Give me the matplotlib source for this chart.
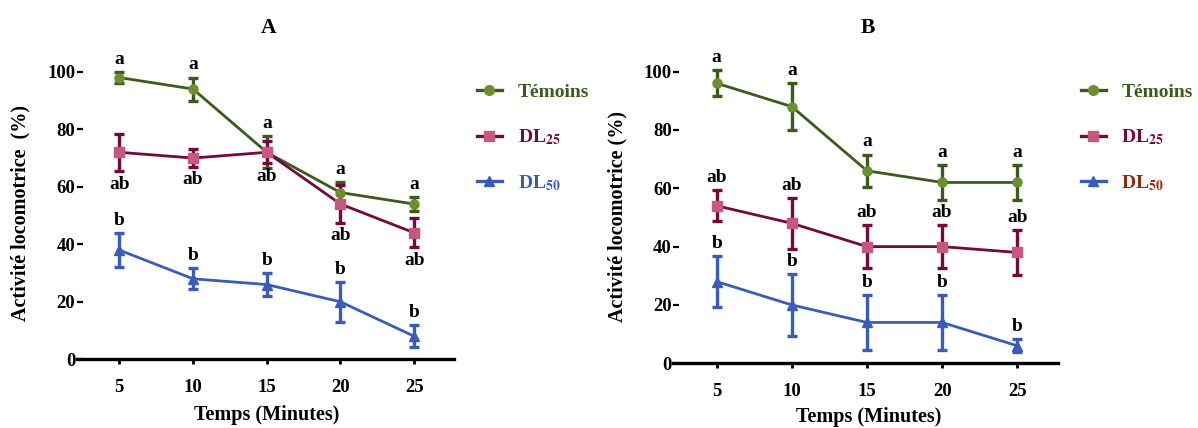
import matplotlib
matplotlib.use("Agg")
from matplotlib import pyplot as plt
from matplotlib.lines import Line2D

plt.rcParams["font.family"] = ["Liberation Serif", "DejaVu Serif"]
plt.rcParams["font.weight"] = "bold"
plt.rcParams["axes.labelweight"] = "bold"
plt.rcParams["mathtext.fontset"] = "stix"

temps = [5, 10, 15, 20, 25]

# panel A
temoins_a = [98, 94, 72, 58, 54]
temoins_a_err = [2, 4, 5.5, 3.5, 2.5]
dl25_a = [72, 70, 72, 54, 44]
dl25_a_err = [6.5, 3, 3.8, 6.5, 5]
dl50_a = [38, 28, 26, 20, 8]
dl50_a_err = [5.8, 3.6, 4, 7, 3.8]

# panel B
temoins_b = [96, 88, 66, 62, 62]
temoins_b_err = [4.4, 8, 5.5, 6, 6]
dl25_b = [54, 48, 40, 40, 38]
dl25_b_err = [5.3, 8.7, 7.3, 7.3, 7.6]
dl50_b = [28, 20, 14, 14, 6]
dl50_b_err = [8.8, 10.5, 9.4, 9.4, 2.2]

letters_temoins = ["a", "a", "a", "a", "a"]
letters_dl25 = ["ab", "ab", "ab", "ab", "ab"]
letters_dl50 = ["b", "b", "b", "b", "b"]

green, green_mk = "#3d5a1e", "#6a8f2e"
maroon, maroon_mk = "#74093a", "#c4587f"
blue = "#3a5cb8"

fig = plt.figure(figsize=(11.98, 4.28), dpi=100)


def draw(ax, series, below, legend_colors, legend_xy, ylabel, label_xy, xlabel_xy):
    for vals, err, col, mk, marker, letters in series:
        ax.errorbar(temps, vals, yerr=err, color=col, lw=2.0, marker=marker, ms=6.5,
                    mfc=mk, mec=mk, elinewidth=2.4, capsize=3.8, capthick=2.4, zorder=3)
    for vals, err, col, mk, marker, letters in series:
        for x, v, e, t in zip(temps, vals, err, letters):
            if below and t == "ab":
                ax.text(x, v - e - 4.6, t, ha="center", va="center", fontsize=14)
            else:
                ax.text(x, v + e + 4.4, t, ha="center", va="center", fontsize=14)

    ax.set_xlim(2.11, 27.7)
    ax.set_ylim(0, 108)
    ax.set_xticks(temps)
    ax.set_yticks([0, 20, 40, 60, 80, 100])
    for s in ["top", "right", "left"]:
        ax.spines[s].set_visible(False)
    ax.spines["bottom"].set_linewidth(2.4)
    ax.tick_params(axis="x", direction="out", length=3.5, width=2, pad=11, labelsize=13.5)
    ax.tick_params(axis="y", direction="in", length=4, width=1.6, pad=1, labelsize=13.5)

    ax.set_ylabel(ylabel, fontsize=14.5, fontweight="bold")
    ax.yaxis.label.set_va("center")
    ax.yaxis.set_label_coords(*label_xy)
    ax.set_xlabel("Temps (Minutes)", fontsize=14.5, fontweight="bold")
    ax.xaxis.label.set_va("center")
    ax.xaxis.set_label_coords(*xlabel_xy)

    handles = [
        Line2D([], [], color=green, lw=2.4, marker="o", ms=7, mfc=green_mk, mec=green_mk),
        Line2D([], [], color=maroon, lw=2.4, marker="s", ms=7, mfc=maroon_mk, mec=maroon_mk),
        Line2D([], [], color=blue, lw=2.4, marker="^", ms=7, mfc=blue, mec=blue),
    ]
    labels = ["Témoins", r"DL$_{\mathbf{25}}$", r"DL$_{\mathbf{50}}$"]
    leg = ax.legend(handles, labels, loc="upper left", bbox_to_anchor=legend_xy,
                    bbox_transform=fig.transFigure, frameon=False, fontsize=14,
                    handlelength=1.3, handletextpad=0.8, labelspacing=1.35,
                    borderpad=0, borderaxespad=0)
    for txt, c in zip(leg.get_texts(), legend_colors):
        txt.set_color(c)


ax_a = fig.add_axes([0.064, 0.1605, 0.315, 0.7255])
draw(ax_a,
     [(temoins_a, temoins_a_err, green, green_mk, "o", letters_temoins),
      (dl25_a, dl25_a_err, maroon, maroon_mk, "s", letters_dl25),
      (dl50_a, dl50_a_err, blue, blue, "^", letters_dl50)],
     True, [green, maroon, blue], (0.398, 0.805),
     "Activité locomotrice  (%)", (-0.149, 0.471), (0.504, -0.179))

ax_b = fig.add_axes([0.562, 0.1512, 0.321, 0.736])
draw(ax_b,
     [(temoins_b, temoins_b_err, green, green_mk, "o", letters_temoins),
      (dl25_b, dl25_b_err, maroon, maroon_mk, "s", letters_dl25),
      (dl50_b, dl50_b_err, blue, blue, "^", letters_dl50)],
     False, [green, maroon, "#8b2c14"], (0.902, 0.805),
     "Activité locomotrice (%)", (-0.146, 0.466), (0.509, -0.170))

fig.text(269 / 1198, 1 - 28 / 428, "A", ha="center", va="center", fontsize=15.5)
fig.text(868 / 1198, 1 - 28 / 428, "B", ha="center", va="center", fontsize=15.5)

fig.savefig("out.png", dpi=100)
